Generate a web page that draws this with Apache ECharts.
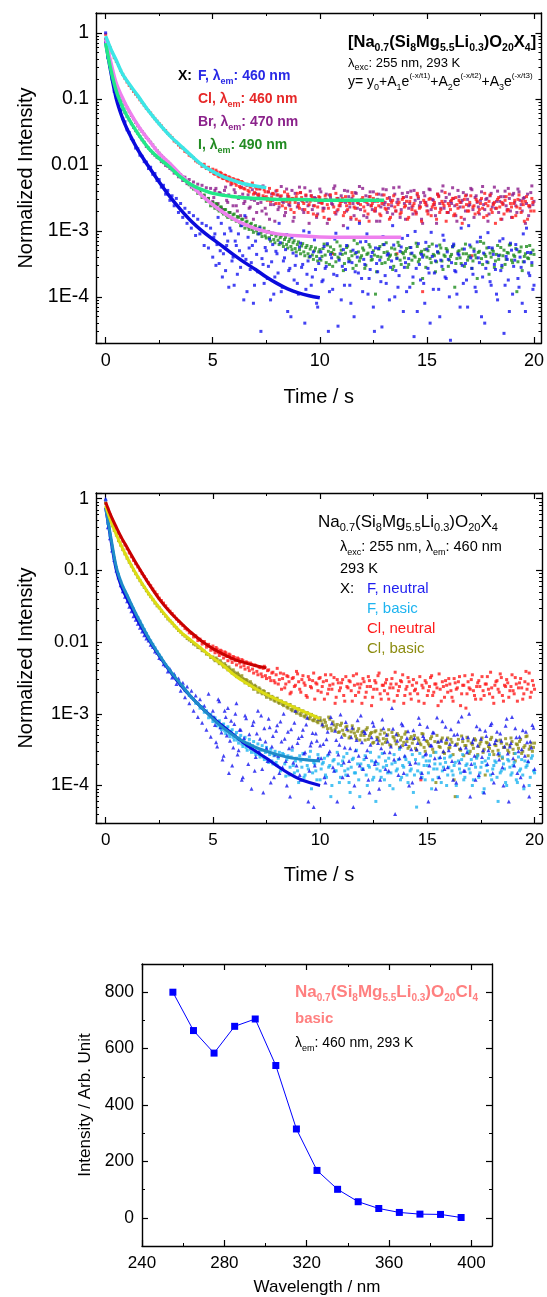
<!DOCTYPE html>
<html><head><meta charset="utf-8">
<script src="https://cdn.jsdelivr.net/npm/echarts@6/dist/echarts.min.js"></script>
<style>html,body{margin:0;padding:0;background:#fff}#c{width:547px;height:1297px}</style>
</head><body><div id="c"></div><script>
// ---------- data ----------
const dt = 0.1;      // sampling step of decay traces (s), main traces start at t = 0
const t2Start = 5.05; // second (interleaved) sample set of the tails starts here, same step
// Panel 1 (neutral, X = F, Cl, Br, I)
const p1_F = [1.0,0.42,0.31,0.2,0.13,0.105,0.078,0.066,0.05,0.045,
0.034,0.031,0.025,0.023,0.018,0.0175,0.014,0.0135,0.0112,0.011,
8.8e-3,9.2e-3,7.2e-3,7.4e-3,5.8e-3,6e-3,4.6e-3,4.9e-3,3.6e-3,4.1e-3,
2.9e-3,3.4e-3,2.4e-3,3.1e-3,1.9e-3,2.6e-3,1.6e-3,2.2e-3,1.3e-3,1.9e-3,
1.1e-3,1.7e-3,8.5e-4,1.5e-3,9e-4,1.3e-3,6e-4,1.2e-3,5.5e-4,1.1e-3,
4e-4,9e-4,6.2e-4,3.2e-4,1.3e-3,4.5e-4,2.5e-4,7e-4,1.1e-3,3.5e-4,
1.5e-4,6e-4,9e-4,2.8e-4,4.2e-4,1.7e-3,1.2e-4,5.5e-4,3.3e-4,8e-5,
7e-4,2.4e-4,1.1e-3,3.8e-4,1.6e-4,5e-4,2.9e-4,9e-5,6.2e-4,2e-4,
4.5e-4,1.3e-3,1.2e-4,3.5e-4,5.2e-4,6e-5,2.7e-4,8e-4,1.8e-4,4.2e-4,
1.1e-4,6.5e-4,3.1e-4,4e-5,2.2e-4,9.5e-4,1.5e-4,4.8e-4,2.6e-4,7e-5,
3.8e-4,1.7e-4,5.8e-4,2.9e-4,3e-5,4.4e-4,1.3e-4,7.5e-4,2.1e-4,3.6e-4,
9e-5,5.2e-4,2.6e-4,1.1e-3,1.5e-4,3.3e-4,5e-5,4.7e-4,2.3e-4,6.8e-4,
1.2e-4,3.1e-4,9e-4,1.9e-4,4.1e-4,7e-5,5.5e-4,2.4e-4,3.6e-4,3.5e-5,
6.2e-4,1.6e-4,4.5e-4,2.8e-4,1.2e-3,1e-4,3.8e-4,2.1e-4,5.7e-4,6e-5,
3.3e-4,8.5e-4,1.4e-4,4.6e-4,2.5e-5,2.7e-4,6.4e-4,1.8e-4,4e-4,8e-5,
5.3e-4,2.3e-4,9.5e-4,1.3e-4,3.5e-4,4.8e-4,5e-5,2.9e-4,7.2e-4,1.9e-4,
3.7e-4,2.2e-5,5.8e-4,2.5e-4,1.1e-4,4.3e-4,1.1e-3,1.6e-4,3.2e-4,7e-5,
6.1e-4,2.7e-4,4.9e-4,1.2e-4,3.9e-4,8e-4,2e-4,4e-5,3.4e-4,5.6e-4,
1.5e-4,4.4e-4,2.6e-4,9e-5,7e-4,3e-4,2.8e-5,4.1e-4,1.8e-4,6.5e-4,
1.1e-4,3.6e-4,5.2e-4,1.4e-4,2.8e-4,9e-4,6e-5,4.7e-4,2.1e-4,3.3e-4,
1.5e-4];
const p1_F2 = [8e-4,3e-4,1.6e-3,5e-4,2e-4,9e-4,6e-4,1.4e-4,1e-3,4e-4,
7e-4,2.2e-4,5e-4,1.2e-3,9e-5,3.7e-4,8e-4,2.6e-4,6e-4,1.5e-4,
4.4e-4,9e-4,3e-5,3.1e-4,5.6e-4,1.9e-4,7.5e-4,3.4e-4,1.1e-4,4.9e-4,
2.3e-4,6.6e-4,1.4e-4,3.9e-4,8.8e-4,2.5e-4,5e-5,4.6e-4,3e-4,1.6e-4,
5.7e-4,2.8e-4,1e-3,1.3e-4,3.5e-4,4.1e-4,2e-4,7.3e-4,8e-5,3.2e-4,
4.8e-4,1.8e-4,2.7e-4,6.4e-4,1.2e-4,3.9e-4,2.2e-4,9.2e-4,3.6e-5,4.5e-4,
2.9e-4,1.5e-4,6e-4,3.4e-4,8e-5,5.1e-4,2.4e-4,4e-4,1.3e-3,1.9e-4,
3.7e-4,6.9e-4,1.1e-4,2.6e-4,4.7e-4,3e-5,3.2e-4,5.4e-4,1.7e-4,8.2e-4,
2.1e-4,4.3e-4,9e-5,3.5e-4,6.1e-4,2.5e-4,1.4e-4,4.9e-4,7.7e-4,2.8e-4,
1.2e-4,3.8e-4,5.6e-4,2e-4,9.8e-4,6e-5,3.1e-4,4.4e-4,1.6e-4,6.7e-4,
2.7e-4,4e-5,4.1e-4,2.3e-4,5.9e-4,1.3e-4,3.6e-4,8.6e-4,2e-4,4.8e-4,
1e-4,3.3e-4,6.3e-4,2.4e-4,4.5e-4,7e-5,3e-4,5.3e-4,1.8e-4,1.2e-3,
3.9e-4,2.2e-4,1.4e-4,6.8e-4,3.3e-4,5e-5,4.6e-4,2.7e-4,9.4e-4,1.7e-4,
5.5e-4,3.1e-4,1.1e-4,4.2e-4,2.5e-4,7.6e-4,1.5e-4,3.7e-4,6e-5,5.1e-4,
2.9e-4,6.2e-4,1.9e-4,4e-4,8e-5,3.4e-4,1.1e-3,2.3e-4,4.7e-4,1.3e-4];
const p1_Cl = [0.95,0.72,0.6,0.5,0.42,0.37,0.32,0.27,0.235,0.205,
0.18,0.16,0.145,0.13,0.118,0.108,0.097,0.088,0.08,0.072,
0.066,0.061,0.055,0.05,0.046,0.042,0.039,0.035,0.033,0.03,
0.028,0.026,0.023,0.022,0.02,0.0185,0.018,0.016,0.0155,0.014,
0.0135,0.0128,0.0115,0.011,0.0105,9.5e-3,0.0102,8.8e-3,9.2e-3,7.9e-3,
8.6e-3,7.2e-3,7.8e-3,6.6e-3,7.4e-3,6.2e-3,6.9e-3,5.7e-3,6.4e-3,5.2e-3,
6e-3,4.9e-3,5.8e-3,4.5e-3,5.4e-3,4.3e-3,5.1e-3,3.9e-3,4.8e-3,3.6e-3,
4.6e-3,3.5e-3,4.3e-3,3.1e-3,4.2e-3,3.3e-3,3.9e-3,2.8e-3,3.7e-3,3e-3,
4.1e-3,2.6e-3,3.4e-3,2.9e-3,2.2e-3,3.6e-3,2.7e-3,3.1e-3,1.9e-3,3.3e-3,
2.4e-3,3.8e-3,2.8e-3,2.1e-3,3e-3,2.5e-3,3.4e-3,1.8e-3,2.9e-3,2.3e-3,
3.2e-3,2.6e-3,1.6e-3,3e-3,2.2e-3,3.5e-3,4.5e-4,1.9e-3,3.1e-3,2.4e-3,
2.8e-3,1.7e-3,3.3e-3,2.1e-3,2.6e-3,3.8e-3,2.3e-3,1.5e-3,2.9e-3,2.5e-3,
3.2e-3,2e-3,2.7e-3,1.4e-3,2.4e-3,3.1e-3,2.2e-3,2.8e-3,1.8e-3,2.6e-3,
3.5e-3,2.1e-3,2.5e-3,1.6e-3,2.9e-3,2.3e-3,4.5e-4,2.7e-3,1.9e-3,3.2e-3,
2.4e-3,1.5e-3,2.8e-3,2.1e-3,2.6e-3,1.8e-3,3.3e-3,2.3e-3,1.2e-4,2.7e-3,
2e-3,3e-3,1.7e-3,2.5e-3,2.2e-3,3.6e-3,1.9e-3,2.8e-3,2.4e-3,1.4e-3,
2.6e-3,2.1e-3,3.1e-3,1.8e-3,2.5e-3,2.9e-3,1.6e-3,2.3e-3,3.4e-3,2e-3,
2.7e-3,4.2e-4,2.4e-3,3e-3,1.9e-3,2.6e-3,2.2e-3,3.7e-3,1.7e-3,2.8e-3,
2.1e-3,2.5e-3,1.3e-3,3e-3,2.3e-3,2.7e-3,1.8e-3,3.3e-3,2.1e-3,2.6e-3,
1.6e-3,2.9e-3,2.3e-3,3.5e-3,1.9e-3,2.5e-3,2.8e-3,1.5e-3,2.4e-3,3.1e-3,
2e-3];
const p1_Cl2 = [7.4e-3,8.3e-3,6.8e-3,7.7e-3,6.3e-3,7e-3,5.9e-3,6.6e-3,5.5e-3,6.2e-3,
5.3e-3,5.9e-3,4.7e-3,5.6e-3,4.4e-3,5e-3,4.1e-3,4.6e-3,5.3e-3,3.8e-3,
4.3e-3,3.6e-3,4.7e-3,3.4e-3,3.9e-3,2.9e-3,4.4e-3,3.2e-3,3.6e-3,2.6e-3,
3.5e-3,3e-3,2.4e-3,3.9e-3,2.8e-3,3.3e-3,2.1e-3,3.1e-3,2.7e-3,3.7e-3,
2.2e-3,3.2e-3,2.6e-3,3.5e-3,1.9e-3,2.8e-3,3.1e-3,2.4e-3,1.7e-3,3.3e-3,
2.7e-3,2e-3,3.4e-3,2.5e-3,1.5e-3,2.9e-3,2.3e-3,3.7e-3,2.1e-3,2.6e-3,
3.1e-3,1.9e-3,2.4e-3,2.8e-3,1.6e-3,3.4e-3,2.2e-3,2.7e-3,1.4e-3,3e-3,
2.3e-3,2.9e-3,1.8e-3,3.3e-3,2.6e-3,2e-3,3.6e-3,2.4e-3,1.7e-3,2.8e-3,
2.2e-3,3.1e-3,1.5e-3,2.7e-3,3.4e-3,2e-3,2.5e-3,1.8e-3,3e-3,2.3e-3,
2.8e-3,1.6e-3,3.2e-3,2.4e-3,2e-3,3.7e-3,2.2e-3,1.4e-3,2.9e-3,2.5e-3,
1.8e-3,3.1e-3,2.3e-3,2.7e-3,1.5e-3,3.3e-3,2.1e-3,2.6e-3,3.8e-3,1.9e-3,
2.4e-3,2.9e-3,1.7e-3,3.2e-3,2.2e-3,2.7e-3,1.3e-3,3e-3,2.5e-3,2e-3,
3.4e-3,2.3e-3,1.8e-3,2.8e-3,2.1e-3,3.1e-3,1.6e-3,2.6e-3,2.4e-3,3.5e-3,
1.9e-3,2.7e-3,2.2e-3,3.2e-3,1.5e-3,2.5e-3,2.9e-3,2e-3,3.6e-3,2.3e-3,
2.6e-3,1.7e-3,3e-3,2.2e-3,2.8e-3,1.4e-3,3.3e-3,2.4e-3,2e-3,2.7e-3];
const p1_Br = [0.8,0.5,0.33,0.22,0.16,0.125,0.1,0.085,0.07,0.062,
0.054,0.048,0.042,0.037,0.033,0.03,0.027,0.024,0.022,0.019,
0.018,0.0165,0.015,0.014,0.013,0.0125,0.0112,0.0108,9.8e-3,9.5e-3,
8.8e-3,8.4e-3,7.5e-3,7.9e-3,6.6e-3,7.1e-3,5.8e-3,6.5e-3,5.2e-3,6e-3,
4.6e-3,5.5e-3,4.2e-3,5.1e-3,3.8e-3,4.9e-3,3.4e-3,4.5e-3,3.1e-3,4.4e-3,
2.8e-3,4.1e-3,2.5e-3,3.8e-3,2.2e-3,3.5e-3,4.6e-3,2.7e-3,1.9e-3,3.3e-3,
4.2e-3,2.4e-3,3.1e-3,1.7e-3,3.6e-3,2.8e-3,4.9e-3,2.2e-3,3e-3,1.5e-3,
3.7e-3,2.6e-3,4.4e-3,2e-3,3.2e-3,1.8e-3,3.9e-3,2.5e-3,2.9e-3,1.4e-3,
3.5e-3,2.3e-3,4.7e-3,2.7e-3,1.9e-3,3.3e-3,2.4e-3,4.1e-3,1.6e-3,3e-3,
2.6e-3,3.8e-3,2.1e-3,4.5e-3,2.8e-3,1.3e-3,3.4e-3,2.4e-3,3.1e-3,1.8e-3,
4.3e-3,2.7e-3,2.2e-3,3.6e-3,1.5e-3,3.2e-3,2.5e-3,4.8e-3,2e-3,2.9e-3,
3.4e-3,1.2e-3,2.7e-3,4e-3,2.3e-3,3.1e-3,1.7e-3,3.7e-3,2.6e-3,2.1e-3,
4.4e-3,2.8e-3,1.6e-3,3.3e-3,2.4e-3,3.9e-3,2e-3,3e-3,1.4e-3,3.5e-3,
2.5e-3,4.2e-3,2.2e-3,2.9e-3,1.8e-3,3.6e-3,2.7e-3,4.6e-3,2.1e-3,3.2e-3,
1.5e-3,3.8e-3,2.6e-3,2.3e-3,4.1e-3,1.9e-3,3.1e-3,2.7e-3,1.3e-3,3.4e-3,
2.4e-3,4.3e-3,2.1e-3,2.9e-3,1.7e-3,3.6e-3,2.6e-3,4e-3,2.2e-3,3.2e-3,
1.9e-3,2.8e-3,4.5e-3,2.4e-3,1.4e-3,3.3e-3,2.7e-3,3.8e-3,2e-3,3e-3,
2.5e-3,4.2e-3,1.6e-3,3.4e-3,2.3e-3,2.9e-3,4.7e-3,2.1e-3,3.1e-3,1.8e-3,
3.7e-3,2.6e-3,2.2e-3,4e-3,2.8e-3,1.5e-3,3.3e-3,2.4e-3,4.4e-3,2e-3,
3.5e-3,2.7e-3,1.9e-3,3.9e-3,2.5e-3,3.1e-3,1.3e-3,3.6e-3,2.3e-3,4.8e-3,
2.8e-3];
const p1_Br2 = [3.2e-3,4.4e-3,2.6e-3,3.7e-3,2.1e-3,4.1e-3,2.9e-3,3.5e-3,5e-3,2.4e-3,
3.8e-3,2e-3,3.3e-3,4.6e-3,2.6e-3,1.6e-3,3.5e-3,2.3e-3,4.2e-3,2.9e-3,
1.9e-3,3.4e-3,2.7e-3,4.8e-3,2.2e-3,3.1e-3,1.5e-3,3.6e-3,2.5e-3,4e-3,
2.1e-3,3.3e-3,2.8e-3,1.7e-3,4.3e-3,2.5e-3,3e-3,1.4e-3,3.7e-3,2.3e-3,
4.6e-3,2.9e-3,1.9e-3,3.4e-3,2.4e-3,4e-3,2.1e-3,3.2e-3,1.6e-3,2.7e-3,
3.9e-3,2.2e-3,3e-3,1.3e-3,3.5e-3,2.6e-3,4.4e-3,1.8e-3,3.1e-3,2.4e-3,
2.8e-3,4.1e-3,2e-3,3.3e-3,1.5e-3,2.6e-3,3.8e-3,2.2e-3,4.7e-3,2.9e-3,
1.7e-3,3.4e-3,2.5e-3,3.9e-3,2.1e-3,2.8e-3,1.4e-3,3.6e-3,2.3e-3,4.3e-3,
2.7e-3,1.9e-3,3.2e-3,2.4e-3,4.5e-3,2e-3,3e-3,1.6e-3,3.7e-3,2.6e-3,
3.3e-3,2.2e-3,4e-3,1.8e-3,2.9e-3,3.5e-3,2.4e-3,1.5e-3,3.8e-3,2.7e-3,
2e-3,4.2e-3,3e-3,2.5e-3,1.3e-3,3.4e-3,2.2e-3,4.8e-3,2.8e-3,1.9e-3,
3.6e-3,2.6e-3,3.1e-3,1.7e-3,4.1e-3,2.3e-3,2.9e-3,1.5e-3,3.5e-3,2.4e-3,
4.4e-3,2.1e-3,3.2e-3,2.7e-3,1.8e-3,3.9e-3,2.5e-3,3e-3,1.4e-3,3.4e-3,
2.3e-3,4.6e-3,2.8e-3,1.9e-3,3.3e-3,2.6e-3,4e-3,2.1e-3,3.1e-3,1.6e-3,
3.7e-3,2.4e-3,4.3e-3,2.9e-3,2e-3,3.2e-3,2.6e-3,1.7e-3,3.8e-3,2.5e-3];
const p1_I = [0.75,0.45,0.32,0.24,0.19,0.16,0.13,0.11,0.095,0.083,
0.073,0.064,0.056,0.05,0.044,0.039,0.035,0.032,0.029,0.026,
0.024,0.022,0.02,0.018,0.0165,0.015,0.0138,0.0128,0.0118,0.011,
0.0102,9.4e-3,8.8e-3,7.9e-3,7.6e-3,6.8e-3,6.6e-3,5.8e-3,5.7e-3,5e-3,
4.9e-3,4.3e-3,4.4e-3,3.7e-3,3.9e-3,3.2e-3,3.5e-3,2.8e-3,3.1e-3,2.4e-3,
2.7e-3,2.2e-3,2.5e-3,2e-3,2.3e-3,1.8e-3,2.1e-3,1.6e-3,1.9e-3,1.5e-3,
1.8e-3,1.4e-3,1.6e-3,1.2e-3,1.5e-3,1.1e-3,1.4e-3,1.05e-3,1.3e-3,9.5e-4,
1.2e-3,9e-4,1.15e-3,8.2e-4,1.1e-3,7.8e-4,9.8e-4,7e-4,9.2e-4,6.6e-4,
8.8e-4,6.2e-4,8.4e-4,5.8e-4,8e-4,5.5e-4,7.5e-4,5.2e-4,7.1e-4,4.8e-4,
6.8e-4,4.5e-4,6.4e-4,4.2e-4,6e-4,4e-4,5.8e-4,3.7e-4,5.5e-4,3.5e-4,
5.2e-4,4.1e-4,6.3e-4,3.3e-4,4.9e-4,5.7e-4,2.9e-4,4.4e-4,6.8e-4,3.8e-4,
5.1e-4,2.5e-4,4.6e-4,5.9e-4,3.5e-4,4.2e-4,7.2e-4,3e-4,4.8e-4,3.9e-4,
5.5e-4,2.7e-4,4.4e-4,6.2e-4,3.6e-4,5e-4,1.1e-4,4.1e-4,5.8e-4,3.2e-4,
4.7e-4,6.6e-4,3.7e-4,4.3e-4,2.6e-4,5.3e-4,3.9e-4,6e-4,3.1e-4,4.5e-4,
4.9e-4,2.8e-4,5.6e-4,3.6e-4,4.2e-4,6.5e-4,3.4e-4,4.6e-4,1.9e-4,5.2e-4,
4e-4,5.8e-4,3.3e-4,4.4e-4,2.4e-4,4.8e-4,6.1e-4,3.5e-4,4.3e-4,5.4e-4,
2.9e-4,4.1e-4,5.7e-4,1.4e-4,3.8e-4,5e-4,3.2e-4,4.5e-4,6.3e-4,3.6e-4,
4.2e-4,2.7e-4,5.3e-4,3.9e-4,4.7e-4,6.9e-4,3.1e-4,4.4e-4,5.5e-4,2.2e-4,
4e-4,4.9e-4,3.5e-4,6e-4,4.3e-4,2.8e-4,5.1e-4,3.7e-4,4.6e-4,6.2e-4,
3.3e-4,4.1e-4,1.2e-4,4.8e-4,5.7e-4,3.4e-4,4.5e-4,3.9e-4,6e-4,3e-4,
4.4e-4];
const p1_I2 = [2.4e-3,2.6e-3,2.1e-3,2.3e-3,1.9e-3,2.1e-3,1.7e-3,1.9e-3,1.6e-3,1.75e-3,
1.5e-3,1.65e-3,1.35e-3,1.5e-3,1.25e-3,1.35e-3,1.15e-3,1.25e-3,1.05e-3,1.15e-3,
1e-3,1.08e-3,9.2e-4,1e-3,8.4e-4,9.5e-4,7.9e-4,8.8e-4,7.4e-4,8.3e-4,
7.2e-4,7.9e-4,6.5e-4,7.4e-4,6.2e-4,6.9e-4,5.8e-4,6.6e-4,5.4e-4,6.2e-4,
5.2e-4,5.9e-4,4.8e-4,5.6e-4,4.5e-4,5.3e-4,4.3e-4,5e-4,4.1e-4,4.8e-4,
3.6e-4,5.4e-4,4.3e-4,6.1e-4,3.1e-4,4.7e-4,5.2e-4,3.4e-4,4e-4,5.9e-4,
4.4e-4,3.2e-4,5.6e-4,3.8e-4,4.9e-4,2.7e-4,4.5e-4,6.4e-4,3.5e-4,4.2e-4,
5.1e-4,3e-4,4.6e-4,5.7e-4,3.7e-4,4.3e-4,2.4e-4,5.3e-4,4e-4,6.2e-4,
3.3e-4,4.8e-4,4.1e-4,5.5e-4,2.9e-4,4.4e-4,6.7e-4,3.6e-4,4.7e-4,3.9e-4,
5.4e-4,3.1e-4,4.5e-4,1.6e-4,4e-4,5.8e-4,3.7e-4,4.9e-4,4.3e-4,2.8e-4,
5e-4,3.8e-4,6.3e-4,4.2e-4,3.4e-4,4.6e-4,5.5e-4,2.6e-4,4.1e-4,5.1e-4,
3.6e-4,4.4e-4,6e-4,3.2e-4,4.8e-4,3.9e-4,5.3e-4,2.9e-4,4.5e-4,4e-4,
5.7e-4,3.5e-4,4.3e-4,1.9e-4,4.9e-4,3.8e-4,6.5e-4,4.1e-4,3.3e-4,4.6e-4,
5.2e-4,2.8e-4,4.4e-4,3.7e-4,5.6e-4,4.2e-4,3.1e-4,4.7e-4,6.1e-4,3.6e-4,
4.3e-4,5.4e-4,3.4e-4,4.9e-4,2.5e-4,4.1e-4,5.8e-4,3.8e-4,4.5e-4,5.1e-4];
// Panel 1 three-exponential fits [t, I]
const p1_fitF = [[0,0.75],[0.25,0.25],[0.5,0.1],[0.75,0.055],[1,0.035],[1.5,0.017],[2,0.0095],[2.5,0.0055],[3,0.0033],[3.5,0.0021],[4,0.0014],[4.5,0.001],[5,7.5e-4],[5.5,5.7e-4],[6,4.3e-4],[6.5,3.3e-4],[7,2.6e-4],[7.5,2e-4],[8,1.6e-4],[8.5,1.32e-4],[9,1.15e-4],[9.5,1.04e-4],[10,9.7e-5]];
const p1_fitCl = [[0,0.891],[0.25,0.562],[0.5,0.38],[0.75,0.251],[1,0.186],[1.5,0.112],[2,0.066],[2.5,0.0417],[3,0.0275],[3.5,0.0195],[4,0.0138],[4.5,0.01],[5,7.94e-3],[5.5,6.6e-3],[6,5.75e-3],[6.5,5.13e-3],[7,4.79e-3],[7.5,4.52e-3]];
const p1_fitBr = [[0,0.7],[0.25,0.27],[0.5,0.13],[0.75,0.08],[1,0.055],[1.5,0.03],[2,0.018],[2.5,0.0125],[3,9.2e-3],[3.5,6.5e-3],[4,5e-3],[4.5,4.2e-3],[5,3.7e-3],[6,3.3e-3],[7,3.1e-3],[8,3e-3],[9,3e-3],[10,2.9e-3],[11,2.9e-3],[12,2.9e-3],[13,2.9e-3]];
const p1_fitI = [[0,0.8],[0.25,0.35],[0.5,0.17],[0.75,0.11],[1,0.075],[1.5,0.04],[2,0.024],[2.5,0.015],[3,0.0105],[3.5,7.1e-3],[4,4.9e-3],[4.5,3.4e-3],[5,2.5e-3],[5.5,1.9e-3],[6,1.5e-3],[6.5,1.25e-3],[7,1.08e-3],[7.5,9.7e-4],[8,9e-4],[9,8.4e-4],[10,8.1e-4],[11,8e-4],[12,8e-4],[13,8e-4],[13.8,8e-4]];

// Panel 2 (X = F, Cl; neutral / basic)
const p2_Fn = [1.0,0.4,0.28,0.19,0.14,0.1,0.08,0.062,0.051,0.043,
0.037,0.031,0.027,0.023,0.0205,0.018,0.0158,0.014,0.0125,0.0112,
0.0105,9.2e-3,8.6e-3,7.4e-3,7.1e-3,6e-3,5.8e-3,4.9e-3,4.7e-3,3.9e-3,
4.2e-3,3.2e-3,3.6e-3,2.6e-3,3.1e-3,2.1e-3,2.7e-3,1.7e-3,2.4e-3,1.4e-3,
2.1e-3,1.1e-3,1.8e-3,9e-4,1.6e-3,7.5e-4,1.3e-3,6e-4,1.9e-3,4.8e-4,
1.1e-3,7e-4,3.5e-4,1.5e-3,5.5e-4,2.6e-4,9e-4,1.2e-3,4.2e-4,1.9e-4,
7.2e-4,1.4e-3,3.1e-4,6e-4,1.3e-4,9.5e-4,3.8e-4,5.2e-4,9e-5,7.8e-4,
2.5e-4,1.1e-3,4.5e-4,1.7e-4,6.3e-4,3.3e-4,8.5e-4,1.1e-4,4.9e-4,2.7e-4,
6.9e-4,1.5e-4,4.1e-4,1e-3,2.2e-4,5.6e-4,7e-5,3.5e-4,7.5e-4,1.9e-4,
4.6e-4,1.2e-4,6e-4,2.9e-4,8.8e-4,1.6e-4,4e-4,5e-5,5.3e-4,2.4e-4,
3.6e-4,7.1e-4,1.3e-4,4.4e-4,2.8e-4,9e-4,1.8e-4,5.8e-4,6e-5,3.7e-4,
4.8e-4,2.1e-4,7.7e-4,1.4e-4,3.3e-4,6.4e-4,1e-4,4.3e-4,2.6e-4,9.5e-4,
1.7e-4,5.4e-4,3.1e-4,8e-5,4.7e-4,6.8e-4,2.2e-4,3.9e-4,1.2e-4,8.3e-4,
2.9e-4,5.1e-4,1.6e-4,3.5e-4,6.2e-4,4e-5,4.2e-4,2.4e-4,7.3e-4,1.5e-4,
3.8e-4,5.7e-4,2e-4,1.1e-4,4.6e-4,3.2e-4,8.8e-4,1.3e-4,4.9e-4,2.7e-4,
6.6e-4,1.9e-4,3.6e-4,5.5e-4,9e-5,4.1e-4,2.5e-4,7.9e-4,1.7e-4,4.4e-4,
3.1e-4,6.1e-4,1.2e-4,3.7e-4,5.2e-4,2.1e-4,9.2e-4,1.6e-4,3.4e-4,4.7e-4,
7e-5,4e-4,2.6e-4,6.7e-4,1.4e-4,4.5e-4,3.1e-4,5.8e-4,2e-4,3.8e-4,
7.4e-4,1.1e-4,4.3e-4,2.8e-4,5.3e-4,1.8e-4,3.5e-4,8.5e-4,6e-5,3.9e-4,
2.4e-4,6.3e-4,1.5e-4,4.8e-4,3.2e-4,1e-4,5.6e-4,2.2e-4,4.1e-4,7e-4,
1.7e-4];
const p2_Fn2 = [9e-4,4e-4,1.6e-3,6.5e-4,2.3e-4,1.1e-3,5e-4,1.5e-4,8e-4,3.4e-4,
1e-3,2.7e-4,6e-4,1.2e-4,4.6e-4,8.7e-4,2e-4,3.8e-4,7e-4,1.6e-4,
5.3e-4,3e-4,9.5e-4,8e-5,4.1e-4,2.2e-4,6.5e-4,3.5e-4,1.3e-4,5.8e-4,
2.6e-4,7.8e-4,1.8e-4,4.5e-4,1e-4,3.3e-4,6.1e-4,2.1e-4,1.1e-3,3.9e-4,
1.4e-4,4.9e-4,2.8e-4,7.1e-4,6e-5,3.6e-4,5.4e-4,1.9e-4,4.2e-4,8.6e-4,
2.4e-4,3.8e-4,1.1e-4,5.6e-4,3e-4,7.4e-4,1.6e-4,4.3e-4,2.7e-4,9.8e-4,
1.3e-4,3.4e-4,6.2e-4,2.2e-4,4.7e-4,5e-5,3.1e-4,8.1e-4,1.9e-4,4e-4,
5.7e-4,2.5e-4,1.2e-4,3.7e-4,7.6e-4,2e-4,4.4e-4,9e-5,3.3e-4,6.3e-4,
1.7e-4,4.1e-4,2.9e-4,1.2e-3,2.3e-4,5.2e-4,1.4e-4,3.5e-4,6.9e-4,2.6e-4,
4.6e-4,1e-4,3.2e-4,5.9e-4,2.1e-4,3.9e-4,7.2e-4,1.5e-4,4.5e-4,2.8e-4,
6e-5,3.6e-4,5.5e-4,2.4e-4,8.9e-4,1.3e-4,4.2e-4,3e-4,6.6e-4,1.8e-4,
3.8e-4,2.2e-4,5.1e-4,1.1e-4,7.8e-4,3.3e-4,4.6e-4,1.6e-4,2.9e-4,1e-3,
2e-4,4.4e-4,1.2e-4,3.6e-4,6.1e-4,2.5e-4,8e-5,4.9e-4,3.1e-4,7e-4,
1.5e-4,3.9e-4,5.6e-4,2.3e-4,4.2e-4,1e-4,6.8e-4,2.8e-4,3.5e-4,9e-4,
1.9e-4,4.7e-4,3e-4,1.3e-4,5.9e-4,2.6e-4,4e-4,7e-5,3.4e-4,6.4e-4];
const p2_Fb = [0.95,0.45,0.3,0.2,0.145,0.11,0.088,0.07,0.058,0.05,
0.044,0.038,0.033,0.029,0.025,0.022,0.0195,0.017,0.015,0.0132,
0.0117,0.0104,9.3e-3,8.3e-3,7.4e-3,6.6e-3,6e-3,5.3e-3,4.8e-3,4.4e-3,
4e-3,3.6e-3,3.4e-3,3e-3,2.8e-3,2.5e-3,2.4e-3,2.1e-3,2e-3,1.8e-3,
1.7e-3,1.6e-3,1.4e-3,1.4e-3,1.2e-3,1.25e-3,1.05e-3,1.1e-3,8.8e-4,9.8e-4,
7.8e-4,8.8e-4,6.8e-4,8e-4,6e-4,7.2e-4,5.3e-4,6.6e-4,4.8e-4,6e-4,
4.3e-4,5.5e-4,3.9e-4,5e-4,3.5e-4,4.7e-4,3.1e-4,4.4e-4,2.9e-4,4.1e-4,
2.7e-4,3.8e-4,2.5e-4,3.6e-4,2.3e-4,3.4e-4,2.1e-4,3.2e-4,2e-4,3e-4,
1.9e-4,2.9e-4,1.7e-4,2.7e-4,1.35e-4,2.6e-4,1.8e-4,3.1e-4,1.5e-4,2.4e-4,
1.1e-4,2.2e-4,2.8e-4,1.4e-4,1.9e-4,2.5e-4,9e-5,2.1e-4,1.6e-4,2.7e-4,
1.2e-4,2e-4,2.4e-4,1.3e-4,1.8e-4,7e-5,2.2e-4,1.6e-4,2.9e-4,1.1e-4,
1.9e-4,2.5e-4,1.4e-4,1.7e-4,8e-5,2.3e-4,1.5e-4,3.1e-4,1.2e-4,2e-4,
1.7e-4,2.6e-4,1e-4,1.8e-4,2.2e-4,1.3e-4,6e-5,2e-4,1.6e-4,2.8e-4,
1.2e-4,1.9e-4,2.4e-4,1.5e-4,9e-5,2.1e-4,1.7e-4,3.2e-4,1.3e-4,1.8e-4,
2.3e-4,1.1e-4,1.6e-4,2.7e-4,1.4e-4,5e-5,2e-4,1.5e-4,2.5e-4,1.2e-4,
1.9e-4,2.2e-4,9e-5,1.7e-4,2.9e-4,1.3e-4,2e-4,1.6e-4,2.4e-4,1e-4,
1.8e-4,2.6e-4,1.4e-4,2.1e-4,7e-5,1.7e-4,2.3e-4,1.2e-4,1.9e-4,3e-4,
1.5e-4,1e-4,2e-4,2.4e-4,1.3e-4,1.8e-4,8e-5,2.2e-4,1.6e-4,2.7e-4,
1.2e-4,1.9e-4,2.1e-4,6e-5,1.5e-4,2.5e-4,1.7e-4,1e-4,2.2e-4,1.4e-4,
1.9e-4,2.8e-4,1.1e-4,1.6e-4,2.3e-4,9e-5,1.8e-4,2.1e-4,1.3e-4,2.6e-4,
1.5e-4];
const p2_Fb2 = [8.4e-4,7.5e-4,7.8e-4,6.4e-4,7e-4,5.8e-4,6.3e-4,5.2e-4,5.7e-4,4.7e-4,
5.1e-4,4.3e-4,4.6e-4,3.8e-4,4.2e-4,3.4e-4,3.9e-4,3.2e-4,3.6e-4,2.9e-4,
3.3e-4,2.7e-4,3.1e-4,2.5e-4,2.9e-4,2.3e-4,2.7e-4,2.2e-4,2.6e-4,2.1e-4,
2.4e-4,1.6e-4,2.8e-4,2e-4,2.3e-4,1.4e-4,2.5e-4,1.9e-4,2.2e-4,1.6e-4,
2.6e-4,1.8e-4,1.3e-4,2.3e-4,1.7e-4,3e-4,1.5e-4,2e-4,1.2e-4,2.4e-4,
1.7e-4,2.1e-4,1.4e-4,2.6e-4,1.9e-4,1e-4,2.3e-4,1.6e-4,2e-4,1.3e-4,
2.2e-4,1.6e-4,2.8e-4,1.1e-4,1.8e-4,2.4e-4,1.5e-4,2e-4,7e-5,1.7e-4,
2.3e-4,1.4e-4,1.9e-4,2.9e-4,1.2e-4,2.1e-4,1.7e-4,2.5e-4,1.3e-4,1.8e-4,
2.2e-4,1.5e-4,1e-4,2e-4,2.7e-4,1.6e-4,2.3e-4,1.2e-4,1.9e-4,2.5e-4,
1.4e-4,2.1e-4,1.7e-4,8e-5,2.3e-4,1.6e-4,2.8e-4,1.3e-4,1.9e-4,2.2e-4,
1.5e-4,2.6e-4,1.2e-4,2e-4,1.7e-4,2.4e-4,1.1e-4,1.8e-4,2.1e-4,1.4e-4,
2.5e-4,1.6e-4,1.9e-4,1e-4,2.2e-4,1.5e-4,2.7e-4,1.3e-4,2e-4,1.7e-4,
2.3e-4,1.2e-4,1.8e-4,2.6e-4,1.5e-4,2.1e-4,9e-5,1.9e-4,2.4e-4,1.4e-4,
1.7e-4,2.2e-4,1.3e-4,2.8e-4,1.6e-4,2e-4,1.1e-4,2.3e-4,1.8e-4,1.5e-4,
2.1e-4,1.2e-4,2.5e-4,1.7e-4,1.4e-4,2.2e-4,1.9e-4,1e-4,2.4e-4,1.6e-4];
const p2_Cln = [0.9,0.72,0.6,0.5,0.43,0.38,0.33,0.29,0.255,0.225,
0.2,0.175,0.155,0.138,0.124,0.112,0.1,0.09,0.082,0.074,
0.067,0.061,0.055,0.05,0.046,0.041,0.038,0.035,0.032,0.029,
0.027,0.025,0.023,0.021,0.0195,0.018,0.017,0.0155,0.0148,0.0135,
0.0132,0.0118,0.0122,0.0105,0.011,9.4e-3,0.0102,8.5e-3,9.3e-3,7.7e-3,
8.8e-3,7.1e-3,8e-3,6.5e-3,7.5e-3,6e-3,7.1e-3,5.5e-3,6.6e-3,5.2e-3,
6.1e-3,4.8e-3,5.8e-3,4.5e-3,5.5e-3,4.2e-3,5.2e-3,4e-3,4.9e-3,3.7e-3,
4.7e-3,3.5e-3,4.4e-3,3.3e-3,4.6e-3,3.1e-3,4.1e-3,2.9e-3,3.8e-3,2.7e-3,
4.3e-3,3e-3,2.2e-3,3.6e-3,2.6e-3,3.3e-3,1.9e-3,3.1e-3,2.4e-3,3.9e-3,
2.8e-3,2e-3,3.4e-3,2.5e-3,1.7e-3,3e-3,2.3e-3,3.7e-3,2.7e-3,2.1e-3,
3.2e-3,2.4e-3,1.6e-3,2.9e-3,2.2e-3,3.5e-3,2.6e-3,1.4e-3,3e-3,2.1e-3,
2.7e-3,1.8e-3,3.3e-3,2.3e-3,2.8e-3,1.5e-3,2.5e-3,3.6e-3,2e-3,2.6e-3,
3.1e-3,1.7e-3,2.4e-3,2.9e-3,1.3e-3,2.2e-3,2.7e-3,3.4e-3,1.9e-3,2.5e-3,
2.1e-3,3e-3,1.6e-3,2.6e-3,2.3e-3,3.8e-3,1.8e-3,2.4e-3,2.8e-3,1.4e-3,
2.2e-3,3.2e-3,1.9e-3,2.5e-3,2.1e-3,2.7e-3,1.5e-3,1.2e-4,2.3e-3,2.9e-3,
1.8e-3,2.4e-3,3.4e-3,2e-3,2.6e-3,1.3e-3,2.2e-3,2.8e-3,1.7e-3,2.5e-3,
3.1e-3,2.1e-3,1.5e-3,2.7e-3,2.3e-3,3.3e-3,1.9e-3,2.5e-3,1.2e-3,2.8e-3,
2.2e-3,3.5e-3,1.8e-3,2.4e-3,2.9e-3,1.6e-3,2.1e-3,2.6e-3,3.3e-3,1.9e-3,
2.3e-3,1.4e-3,2.8e-3,2.2e-3,3.6e-3,1.8e-3,2.5e-3,3e-3,1.7e-3,2.4e-3,
2.1e-3,3.2e-3,1.5e-3,2.7e-3,2.3e-3,1.9e-3,3.9e-3,2.6e-3,1.7e-3,2.9e-3,
2.2e-3];
const p2_Cln2 = [7.8e-3,8.4e-3,7.2e-3,7.7e-3,6.8e-3,7.3e-3,6.3e-3,6.8e-3,5.8e-3,6.3e-3,
5.5e-3,6e-3,5.1e-3,5.7e-3,4.7e-3,5.3e-3,4.4e-3,5.1e-3,4.2e-3,4.8e-3,
3.9e-3,4.5e-3,3.6e-3,4.3e-3,3.4e-3,4e-3,3.2e-3,3.7e-3,2.9e-3,3.5e-3,
2.6e-3,3.7e-3,3.1e-3,2.3e-3,3.4e-3,2.8e-3,2e-3,3.2e-3,2.5e-3,3.6e-3,
2.2e-3,3e-3,2.7e-3,1.8e-3,3.3e-3,2.4e-3,2.9e-3,1.6e-3,2.6e-3,3.1e-3,
2e-3,2.8e-3,3.5e-3,1.9e-3,2.5e-3,2.2e-3,3.2e-3,1.7e-3,2.7e-3,2.3e-3,
3e-3,1.5e-3,2.4e-3,2.9e-3,2.1e-3,3.4e-3,1.8e-3,2.6e-3,2.3e-3,1.4e-3,
2.8e-3,2e-3,3.3e-3,2.4e-3,1.7e-3,2.9e-3,2.2e-3,3.7e-3,1.6e-3,2.5e-3,
2.7e-3,1.9e-3,2.3e-3,3.1e-3,1.5e-3,2.6e-3,2.1e-3,2.9e-3,3.5e-3,1.8e-3,
2.4e-3,2.8e-3,1.6e-3,3e-3,2.2e-3,1.9e-3,3.3e-3,2.5e-3,1.4e-3,2.7e-3,
2.1e-3,3.2e-3,1.8e-3,2.6e-3,2.3e-3,3.6e-3,1.5e-3,2.4e-3,2.9e-3,2e-3,
2.6e-3,1.7e-3,3.1e-3,2.2e-3,2.8e-3,1.3e-3,2.5e-3,3.4e-3,1.9e-3,2.3e-3,
3e-3,2.1e-3,1.6e-3,2.7e-3,2.4e-3,3.3e-3,1.8e-3,2.6e-3,2.2e-3,3.8e-3,
1.7e-3,2.5e-3,2.9e-3,2e-3,3.2e-3,1.5e-3,2.4e-3,2.7e-3,2.1e-3,3.5e-3,
1.9e-3,2.6e-3,2.3e-3,3.1e-3,1.6e-3,2.8e-3,2.2e-3,3.7e-3,2e-3,2.5e-3];
const p2_Clb = [0.85,0.62,0.5,0.42,0.36,0.31,0.26,0.225,0.195,0.17,
0.148,0.13,0.115,0.101,0.09,0.08,0.072,0.064,0.058,0.052,
0.047,0.043,0.039,0.035,0.032,0.03,0.027,0.025,0.023,0.021,
0.0198,0.0184,0.0168,0.0158,0.0145,0.0138,0.0127,0.0121,0.0112,0.0107,
0.0102,9.4e-3,9.1e-3,8.4e-3,8.3e-3,7.6e-3,7.5e-3,6.8e-3,6.7e-3,6.1e-3,
6.2e-3,5.5e-3,5.7e-3,5e-3,5.1e-3,4.5e-3,4.7e-3,4.1e-3,4.2e-3,3.7e-3,
3.8e-3,3.3e-3,3.5e-3,3.1e-3,3.1e-3,2.7e-3,2.9e-3,2.5e-3,2.6e-3,2.2e-3,
2.4e-3,2e-3,2.2e-3,1.9e-3,2.05e-3,1.7e-3,1.9e-3,1.6e-3,1.7e-3,1.5e-3,
1.65e-3,1.4e-3,1.5e-3,1.3e-3,1.42e-3,1.2e-3,1.35e-3,1.1e-3,1.25e-3,1.02e-3,
1.18e-3,9.5e-4,1.1e-3,9e-4,1.04e-3,8.5e-4,9.8e-4,8e-4,9.2e-4,7.5e-4,
8.8e-4,7.2e-4,8.2e-4,6.8e-4,9e-4,6.3e-4,7.7e-4,6e-4,7.1e-4,5.6e-4,
7.4e-4,5.2e-4,6.5e-4,5.8e-4,4.8e-4,6.8e-4,5.4e-4,4.5e-4,6.2e-4,5e-4,
5.7e-4,4.3e-4,6.4e-4,4.9e-4,5.5e-4,4e-4,5.8e-4,4.6e-4,5.2e-4,3.8e-4,
5.4e-4,4.4e-4,6e-4,3.6e-4,4.8e-4,4.2e-4,5.3e-4,3.4e-4,4.7e-4,4e-4,
5.6e-4,3.3e-4,4.5e-4,3.9e-4,5e-4,3.1e-4,4.3e-4,3.7e-4,5.2e-4,3e-4,
4.1e-4,3.6e-4,4.8e-4,2.9e-4,1.1e-4,4e-4,3.4e-4,4.6e-4,2.8e-4,3.9e-4,
3.3e-4,4.4e-4,2.7e-4,7e-5,3.8e-4,3.2e-4,4.9e-4,2.6e-4,3.6e-4,4.2e-4,
3e-4,3.7e-4,4.5e-4,2.5e-4,3.5e-4,4.1e-4,2.9e-4,1.4e-4,3.9e-4,3.3e-4,
4.7e-4,2.7e-4,3.6e-4,3.1e-4,4.3e-4,2.4e-4,3.4e-4,3.8e-4,2.9e-4,4.6e-4,
3.2e-4,2.2e-4,3.7e-4,4.1e-4,2.8e-4,3.4e-4,4.8e-4,2.6e-4,3.5e-4,3e-4,
3.9e-4];
const p2_Clb2 = [5.8e-3,6e-3,5.3e-3,5.5e-3,4.8e-3,5e-3,4.4e-3,4.5e-3,4e-3,4.1e-3,
3.6e-3,3.7e-3,3.3e-3,3.4e-3,3e-3,3e-3,2.7e-3,2.8e-3,2.4e-3,2.5e-3,
2.2e-3,2.3e-3,2e-3,2.1e-3,1.85e-3,1.9e-3,1.7e-3,1.75e-3,1.55e-3,1.6e-3,
1.45e-3,1.5e-3,1.35e-3,1.4e-3,1.25e-3,1.3e-3,1.15e-3,1.2e-3,1.08e-3,1.12e-3,
1e-3,1.05e-3,9.3e-4,9.8e-4,8.7e-4,9.2e-4,8.2e-4,8.6e-4,7.8e-4,8.1e-4,
8e-4,6.6e-4,7.6e-4,6.2e-4,8.4e-4,5.8e-4,7e-4,6.5e-4,5.5e-4,6.9e-4,
5.9e-4,5e-4,6.7e-4,4.6e-4,5.6e-4,6.1e-4,4.9e-4,5.7e-4,4.3e-4,5.5e-4,
5e-4,6e-4,4.4e-4,5.3e-4,3.9e-4,5.6e-4,4.7e-4,4.2e-4,5.9e-4,4.5e-4,
4e-4,5.1e-4,3.7e-4,5.5e-4,4.6e-4,3.8e-4,5e-4,4.3e-4,3.6e-4,5.2e-4,
4.1e-4,3.5e-4,4.8e-4,4.4e-4,3.3e-4,4.6e-4,3.9e-4,5.3e-4,3.4e-4,4.2e-4,
3.8e-4,4.5e-4,3.2e-4,4.1e-4,5e-4,3.5e-4,4.3e-4,2.9e-4,3.9e-4,4.6e-4,
3.4e-4,4e-4,1.2e-4,3.7e-4,4.4e-4,3.1e-4,4.1e-4,3.6e-4,4.7e-4,2.8e-4,
3.9e-4,3.3e-4,4.3e-4,2.7e-4,3.8e-4,4.6e-4,3.2e-4,4e-4,3.5e-4,4.4e-4,
3e-4,3.7e-4,4.2e-4,2.6e-4,3.9e-4,3.4e-4,4.5e-4,3.1e-4,3.6e-4,4.1e-4,
2.8e-4,3.8e-4,3.3e-4,4.4e-4,3e-4,3.6e-4,4.9e-4,3.2e-4,3.9e-4,3.4e-4];
const p2_fitFn = [[0,0.75],[0.25,0.26],[0.5,0.1],[0.75,0.058],[1,0.04],[1.5,0.02],[2,0.011],[2.5,6.4e-3],[3,3.9e-3],[3.5,2.5e-3],[4,1.7e-3],[4.5,1.2e-3],[5,8.8e-4],[5.5,6.6e-4],[6,5e-4],[6.5,3.8e-4],[7,3e-4],[7.5,2.4e-4],[8,1.87e-4],[8.5,1.5e-4],[9,1.25e-4],[9.5,1.1e-4],[10,1e-4]];
const p2_fitFb = [[0,0.75],[0.25,0.28],[0.5,0.11],[0.75,0.065],[1,0.045],[1.5,0.022],[2,0.0115],[2.5,6.6e-3],[3,4e-3],[3.5,2.6e-3],[4,1.7e-3],[4.5,1.2e-3],[5,8.5e-4],[5.5,6.3e-4],[6,4.9e-4],[6.5,4e-4],[7,3.4e-4],[7.5,3e-4],[8,2.7e-4],[8.5,2.48e-4],[9,2.35e-4],[9.5,2.25e-4],[10,2.2e-4]];
const p2_fitCln = [[0,0.891],[0.25,0.575],[0.5,0.398],[0.75,0.282],[1,0.209],[1.5,0.115],[2,0.066],[2.5,0.0398],[3,0.0263],[3.5,0.0186],[4,0.0135],[4.5,0.0102],[5,8.1e-3],[5.5,6.76e-3],[6,5.75e-3],[6.5,5.13e-3],[7,4.68e-3],[7.5,4.37e-3]];
const p2_fitClb = [[0,0.794],[0.25,0.479],[0.5,0.316],[0.75,0.214],[1,0.151],[1.5,0.0813],[2,0.0479],[2.5,0.0302],[3,0.02],[3.5,0.0138],[4,0.0105],[4.5,7.94e-3],[5,6.03e-3],[5.5,4.68e-3],[6,3.47e-3],[6.5,2.75e-3],[7,2.24e-3],[7.5,1.86e-3],[8,1.58e-3],[8.5,1.35e-3],[9,1.15e-3],[9.5,1e-3],[10,8.5e-4]];

// Panel 3 excitation spectrum
const p3_wavelength = [255,265,275,285,295,305,315,325,335,345,355,365,375,385,395];
const p3_intensity = [800,664,584,679,705,540,315,168,101,57,33,19,13,12,1];

// tick values
const timeMajor = [0,5,10,15,20], timeMinor = [2.5,7.5,12.5,17.5];
const wlMajor = [240,280,320,360,400], wlMinor = [260,300,340,380];
const intMajor = [0,200,400,600,800], intMinor = [100,300,500,700];
const logMinorMult = [2,3,4,5,6,7,8,9];
const decades = [-5,-4,-3,-2,-1,0];

// ---------- helpers ----------
const FONT = '"Liberation Sans", Arial, Helvetica, sans-serif';
const AXC = '#000';
function trace(vals, t0){ return vals.map((v,i)=>[Math.round((t0 + i*dt)*1000)/1000, v]); }
function both(a, b){ return trace(a, 0).concat(trace(b, t2Start)); }
function logFmt(v){ const e=Math.log10(v), r=Math.round(e); if(Math.abs(e-r)>1e-6) return ''; return r>=-2 ? String(+Math.pow(10,r).toFixed(2)) : '1E'+r; }

function xSet(g, min, max, majors, minors, lab, name, nameGap, nameSize){
  const base = {gridIndex:g, type:'value', min, max, splitLine:{show:false}, axisPointer:{show:false}};
  const line = {show:true, onZero:false, lineStyle:{color:AXC, width:1.4}};
  const noLine = {show:false, onZero:false};
  const tMaj = {show:true, inside:true, length:6, customValues:majors, lineStyle:{color:AXC, width:1.2}};
  const tMin = {show:true, inside:true, length:3, customValues:minors, lineStyle:{color:AXC, width:1}};
  return [
    {...base, position:'bottom', axisLine:line, axisTick:tMaj,
      axisLabel:{customValues:majors, color:'#000', fontFamily:FONT, fontSize:lab, margin:9},
      name, nameLocation:'middle', nameGap, nameTextStyle:{fontFamily:FONT, fontSize:nameSize, color:'#000'}},
    {...base, position:'bottom', axisLine:noLine, axisTick:tMin, axisLabel:{show:false}},
    {...base, position:'top', axisLine:line, axisTick:tMaj, axisLabel:{show:false}},
    {...base, position:'top', axisLine:noLine, axisTick:tMin, axisLabel:{show:false}}
  ];
}
function ySetLog(g, min, max, lab, name, nameGap, nameSize){
  const lmin = Math.log10(min), lmax = Math.log10(max);
  const minors = [];
  decades.forEach(d=>logMinorMult.forEach(m=>{ const v=Math.log10(m)+d; if(v>lmin && v<lmax) minors.push(v); }));
  const line = {show:true, onZero:false, lineStyle:{color:AXC, width:1.4}};
  const noLine = {show:false, onZero:false};
  const tMaj = {show:true, inside:true, length:6, lineStyle:{color:AXC, width:1.2}};
  const tMin = {show:true, inside:true, length:3, customValues:minors, lineStyle:{color:AXC, width:1}};
  const base = {gridIndex:g, type:'log', logBase:10, min, max, splitLine:{show:false}, minorTick:{show:false}, axisPointer:{show:false}};
  const vbase = {gridIndex:g, type:'value', min:lmin, max:lmax, splitLine:{show:false}, axisPointer:{show:false}};
  return [
    {...base, position:'left', axisLine:line, axisTick:tMaj,
      axisLabel:{formatter:logFmt, color:'#000', fontFamily:FONT, fontSize:lab, margin:7},
      name, nameLocation:'middle', nameGap, nameTextStyle:{fontFamily:FONT, fontSize:nameSize, color:'#000'}},
    {...vbase, position:'left', axisLine:noLine, axisTick:tMin, axisLabel:{show:false}},
    {...base, position:'right', axisLine:line, axisTick:tMaj, axisLabel:{show:false}},
    {...vbase, position:'right', axisLine:noLine, axisTick:tMin, axisLabel:{show:false}}
  ];
}
function ySetLin(g, min, max, majors, minors, lab, name, nameGap, nameSize){
  const a = xSet(g, min, max, majors, minors, lab, name, nameGap, nameSize);
  a[0].position='left'; a[1].position='left'; a[2].position='right'; a[3].position='right';
  a[0].axisLabel.margin = 8;
  return a;
}
function rt(md, size, weight, color, sub, sup){
  const L = size + 6;
  const mk = (fs, lh, va)=>({fontSize:fs, fontWeight:weight, fontFamily:FONT, fill:color, color:color, lineHeight:lh, verticalAlign:va});
  const rich = {n:mk(size, L, 'middle'), s:mk(sub, sub, 'bottom'), p:mk(sup||sub, sup||sub, 'top')};
  let out = '', i = 0;
  const isMark = k => (md[k]==='_'||md[k]==='^') && md[k+1]==='{';
  while(i < md.length){
    if(isMark(i)){ const j = md.indexOf('}', i); out += '{'+(md[i]==='_'?'s':'p')+'|'+md.slice(i+2,j)+'}'; i = j+1; }
    else { let j = i; while(j < md.length && !isMark(j)) j++; out += '{n|'+md.slice(i,j)+'}'; i = j; }
  }
  return {text: out, rich};
}
function label(x, y, md, size, weight, color, sub, sup){
  const r = rt(md, size, weight, color, sub, sup);
  return {type:'text', x, y, z:100, silent:true,
    style:{text:r.text, rich:r.rich, fill:color, fontSize:size, fontFamily:FONT, fontWeight:weight, align:'left', verticalAlign:'middle'}};
}
function sc(xi, data, color, symbol, size){
  return {type:'scatter', xAxisIndex:xi, yAxisIndex:xi, data, symbol, symbolSize:size,
    itemStyle:{color}, silent:true, animation:false, z:2};
}
function fit(xi, data, color, w){
  return {type:'line', xAxisIndex:xi, yAxisIndex:xi, data, showSymbol:false, smooth:0.35,
    lineStyle:{color, width:w}, silent:true, animation:false, z:4};
}

// ---------- colours ----------
const C = {blue:'#1414F0', red:'#FF1A1A', purple:'#8B1A8B', green:'#1E8C1E',
  fitBlue:'#0A0ADC', fitCyan:'#3CE6E6', fitSpring:'#22E888', fitViolet:'#EE80EE',
  lblue:'#1EB4F0', olive:'#8C8C10', fitSteel:'#1E8CC8', fitDRed:'#C80000', fitYellow:'#DCDC14'};

const option = {
  animation:false,
  backgroundColor:'#fff',
  grid:[
    {left:96, top:13, width:448, height:330},
    {left:96, top:493, width:448, height:330},
    {left:142, top:964, width:350, height:282}
  ],
  xAxis:[
    ...xSet(0, -0.45, 20.35, timeMajor, timeMinor, 18, 'Time / s', 44, 20),
    ...xSet(1, -0.45, 20.35, timeMajor, timeMinor, 17, 'Time / s', 42, 20),
    ...xSet(2, 240, 410, wlMajor, wlMinor, 17, 'Wavelength / nm', 33, 17)
  ],
  yAxis:[
    ...ySetLog(0, 2e-5, 2, 19.5, 'Normalized Intensity', 60, 20),
    ...ySetLog(1, 3e-5, 1.2, 18, 'Normalized Intensity', 60, 20),
    ...ySetLin(2, -100, 900, intMajor, intMinor, 17.5, 'Intensity / Arb. Unit', 48, 17)
  ],
  series:[
    sc(0, both(p1_Br, p1_Br2), C.purple, 'rect', 3),
    sc(0, both(p1_Cl, p1_Cl2), C.red, 'rect', 3),
    sc(0, both(p1_I, p1_I2), C.green, 'rect', 3),
    sc(0, both(p1_F, p1_F2), C.blue, 'rect', 3),
    fit(0, p1_fitF, C.fitBlue, 3.5),
    fit(0, p1_fitI, C.fitViolet, 3.5),
    fit(0, p1_fitBr, C.fitSpring, 3.5),
    fit(0, p1_fitCl, C.fitCyan, 3.5),

    sc(4, both(p2_Cln, p2_Cln2), C.red, 'rect', 3),
    sc(4, both(p2_Clb, p2_Clb2), C.olive, 'rect', 3),
    sc(4, both(p2_Fb, p2_Fb2), C.lblue, 'rect', 3),
    sc(4, both(p2_Fn, p2_Fn2), C.blue, 'triangle', 4),
    fit(4, p2_fitFn, C.fitBlue, 3),
    fit(4, p2_fitFb, C.fitSteel, 3),
    fit(4, p2_fitClb, C.fitYellow, 3),
    fit(4, p2_fitCln, C.fitDRed, 3),

    {type:'line', xAxisIndex:8, yAxisIndex:8, data:p3_wavelength.map((w,i)=>[w, p3_intensity[i]]),
      symbol:'rect', symbolSize:7, showSymbol:true, lineStyle:{color:'#0000FF', width:1},
      itemStyle:{color:'#0000FF'}, silent:true, animation:false, z:4}
  ],
  graphic:[
    label(348, 42, '[Na_{0.7}(Si_{8}Mg_{5.5}Li_{0.3})O_{20}X_{4}]', 16.5, 'bold', '#000', 10.5),
    label(348, 63, 'λ_{exc}: 255 nm, 293 K', 13, 'normal', '#000', 9),
    label(348, 82, 'y= y_{0}+A_{1}e^{(-x/t1)}+A_{2}e^{(-x/t2)}+A_{3}e^{(-x/t3)}', 14, 'normal', '#000', 9, 8),
    label(178, 76, 'X:', 14, 'bold', '#000', 9),
    label(198, 76, 'F, λ_{em}: 460 nm', 14, 'bold', '#2828E6', 9),
    label(198, 99, 'Cl, λ_{em}: 460 nm', 14, 'bold', '#E62828', 9),
    label(198, 122, 'Br, λ_{em}: 470 nm', 14, 'bold', '#8B228B', 9),
    label(198, 145, 'I, λ_{em}: 490 nm', 14, 'bold', '#228B22', 9),

    label(318, 522, 'Na_{0.7}(Si_{8}Mg_{5.5}Li_{0.3})O_{20}X_{4}', 17, 'normal', '#000', 11),
    label(340, 547, 'λ_{exc}: 255 nm, λ_{em}: 460 nm', 14.5, 'normal', '#000', 9),
    label(340, 569, '293 K', 14.5, 'normal', '#000', 9),
    label(340, 589, 'X:', 15, 'normal', '#000', 9),
    label(367, 589, 'F, neutral', 15, 'normal', '#1E1EF0', 9),
    label(367, 609, 'F, basic', 15, 'normal', '#1EB4F0', 9),
    label(367, 629, 'Cl, neutral', 15, 'normal', '#FF1A1A', 9),
    label(367, 649, 'Cl, basic', 15, 'normal', '#8C8C10', 9),

    label(295, 992, 'Na_{0.7}(Si_{8}Mg_{5.5}Li_{0.3})O_{20}Cl_{4}', 17, 'bold', '#FF8080', 10),
    label(295, 1019, 'basic', 15, 'bold', '#FF8080', 9),
    label(295, 1043, 'λ_{em}: 460 nm, 293 K', 14, 'normal', '#000', 9)
  ]
};
const chart = echarts.init(document.getElementById('c'), null, {renderer:'canvas'});
chart.setOption(option);
</script></body></html>
